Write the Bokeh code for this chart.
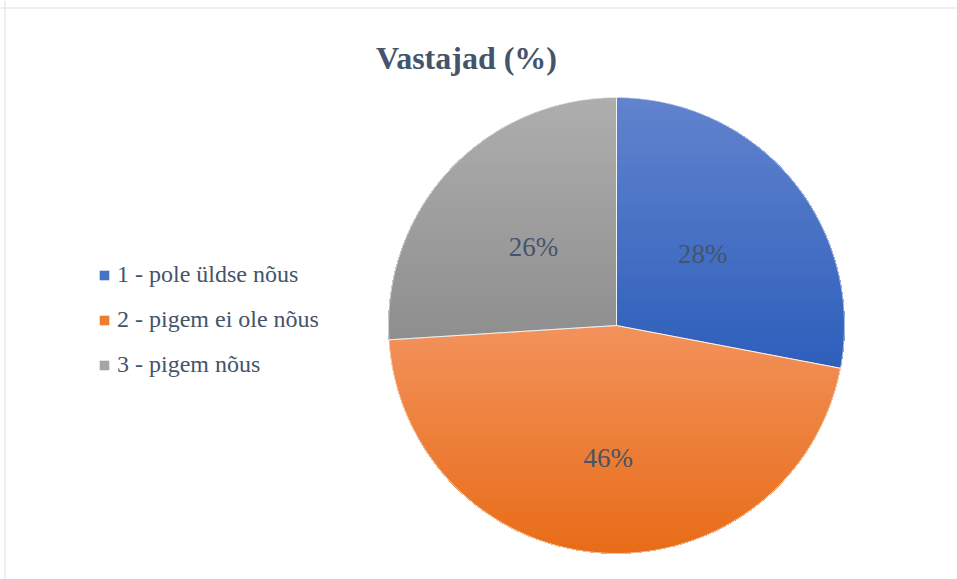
import numpy as np
from bokeh.plotting import figure
from bokeh.models import Range1d, Legend, LegendItem, Label, Span, ColumnDataSource
from bokeh.core.properties import value
from bokeh.embed import file_html
from bokeh.resources import INLINE

# ---- data ----
categories = ["1 - pole üldse nõus", "2 - pigem ei ole nõus", "3 - pigem nõus"]
shares = [28, 46, 26]
labels = ["28%", "46%", "26%"]
colors_top = ["#6283CE", "#F2925C", "#AEAEAE"]
colors_mid = ["#4472C4", "#ED7D31", "#A5A5A5"]
colors_bottom = ["#2D5FBB", "#E86C17", "#8E8E8E"]
title_text = "Vastajad (%)"

# ---- layout (pixel-like data space, y up) ----
W, H = 957, 579
CX, CY, R = 616, H - 325, 228
label_r = [112, 133, 114]
TEXT = "#44546A"
SERIF = "Liberation Serif"

p = figure(width=W, height=H, output_backend="svg", toolbar_location=None,
           x_range=Range1d(0, W), y_range=Range1d(0, H),
           min_border=0, outline_line_color=None)
p.axis.visible = False
p.grid.visible = False
p.background_fill_color = "white"


def hex2rgb(h):
    h = h.lstrip("#")
    return np.array([int(h[i:i + 2], 16) for i in (0, 2, 4)], dtype=float)


def rgb2hex(c):
    return "#%02x%02x%02x" % tuple(int(round(v)) for v in c)


def clip_below(xs, ys, yc):
    # Sutherland-Hodgman: keep part with y <= yc
    out_x, out_y = [], []
    n = len(xs)
    for i in range(n):
        x1, y1 = xs[i], ys[i]
        x2, y2 = xs[(i + 1) % n], ys[(i + 1) % n]
        in1, in2 = y1 <= yc, y2 <= yc
        if in1:
            out_x.append(x1); out_y.append(y1)
        if in1 != in2:
            t = (yc - y1) / (y2 - y1)
            out_x.append(x1 + t * (x2 - x1)); out_y.append(yc)
    return out_x, out_y


total = float(sum(shares))
cum = np.cumsum([0] + shares) / total
legend_items = []
outline_xs, outline_ys = [], []
for i, cat in enumerate(categories):
    a, b = cum[i], cum[i + 1]
    t = np.linspace(a, b, 240)
    th = np.pi / 2 - 2 * np.pi * t
    xs = [CX] + list(CX + R * np.cos(th))
    ys = [CY] + list(CY + R * np.sin(th))
    outline_xs.append(xs); outline_ys.append(ys)
    base = p.patch(xs, ys, fill_color=colors_mid[i], line_color=None)
    legend_items.append(LegendItem(label=cat, renderers=[base]))
    ymax, ymin = max(ys), min(ys)
    N = 70
    ctop, cbot = hex2rgb(colors_top[i]), hex2rgb(colors_bottom[i])
    lx, ly, lc = [], [], []
    for k in range(N):
        yc = ymax - (ymax - ymin) * k / N
        frac = (k + 0.5) / N
        cx_, cy_ = clip_below(xs, ys, yc + (0.01 if k == 0 else 0.0))
        if len(cx_) < 3:
            continue
        lx.append(cx_); ly.append(cy_)
        lc.append(rgb2hex(ctop + (cbot - ctop) * frac))
    p.patches(xs="xs", ys="ys", fill_color="c", line_color=None,
              source=ColumnDataSource(dict(xs=lx, ys=ly, c=lc)))

p.patches(outline_xs, outline_ys, fill_color=None, line_color="white",
          line_width=0.8, line_alpha=0.8)

# percentage labels
mids = (cum[:-1] + cum[1:]) / 2
ang = np.pi / 2 - 2 * np.pi * mids
lab_x = CX + np.array(label_r) * np.cos(ang)
lab_y = CY + np.array(label_r) * np.sin(ang)
p.text(x=lab_x, y=lab_y, text=labels, text_font=value(SERIF),
       text_font_size="27px", text_color=TEXT, text_align="center",
       text_baseline="middle")

# title
p.add_layout(Label(x=466, y=H - 57, text=title_text, text_font=SERIF,
                   text_font_size="32px", text_font_style="bold",
                   text_color=TEXT, text_align="center",
                   text_baseline="alphabetic"))

# legend
legend = Legend(items=legend_items, location=(98, 201), orientation="vertical",
                glyph_width=12, glyph_height=12, label_height=24, spacing=18,
                label_standoff=7, padding=0, margin=0,
                border_line_color=None, background_fill_alpha=0,
                label_text_font=SERIF, label_text_font_size="24px",
                label_text_color=TEXT)
p.add_layout(legend, "center")

# chart-area border (top / left)
p.add_layout(Span(location=H - 7.5, dimension="width", line_color="#DCDFE3", line_width=1))
p.add_layout(Span(location=4.5, dimension="height", line_color="#DCDFE3", line_width=1))

open("out.html", "w").write(file_html(p, INLINE))
